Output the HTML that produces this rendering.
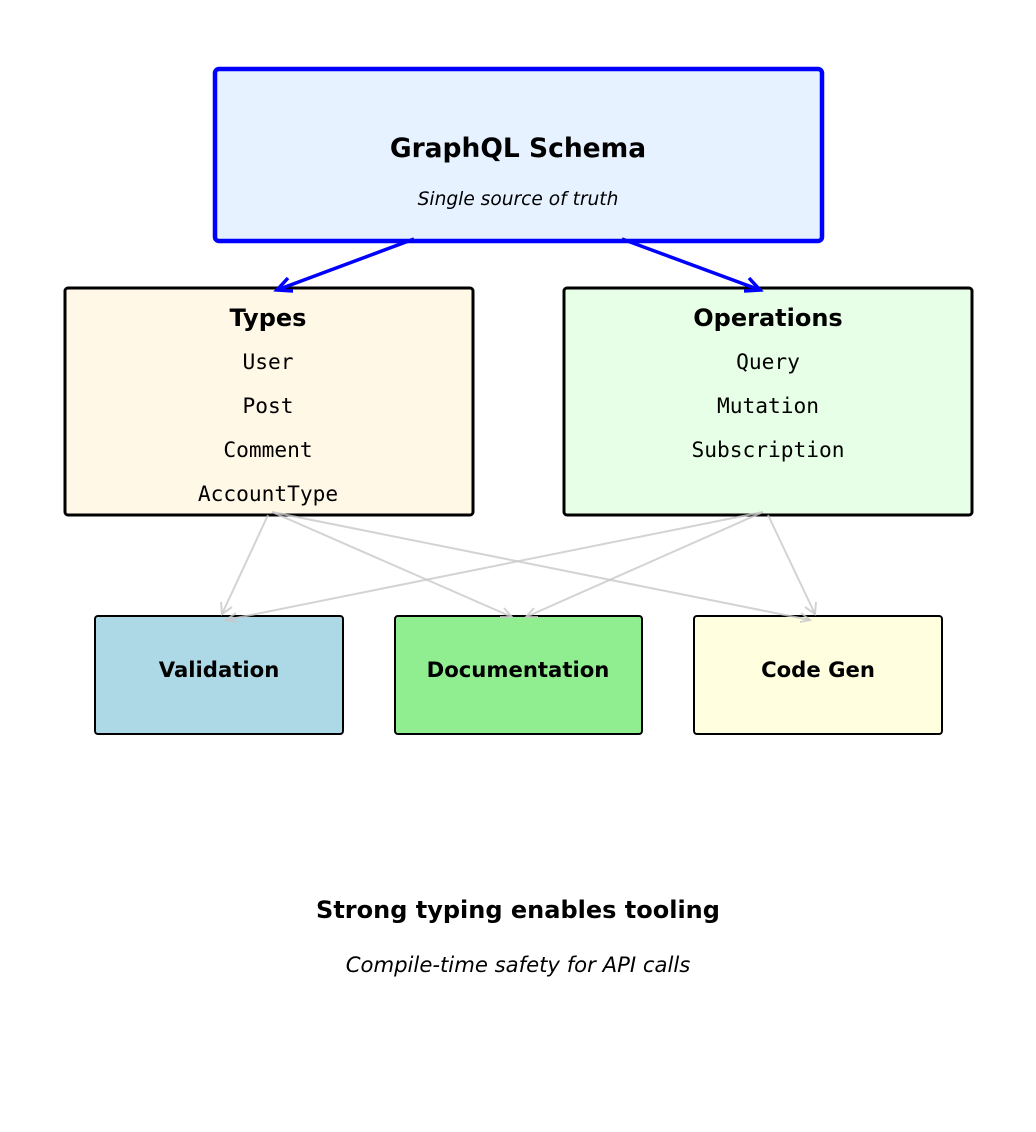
<!DOCTYPE html>
<html><head><meta charset="utf-8"><style>
html,body{margin:0;padding:0;background:#fff;}
svg{display:block;}
.b{font-family:"DejaVu Sans","Liberation Sans",sans-serif;font-weight:bold;}
.i{font-family:"DejaVu Sans","Liberation Sans",sans-serif;font-style:italic;}
.m{font-family:"DejaVu Sans Mono","Liberation Mono",monospace;}
</style></head><body>
<svg width="1036" height="1132" viewBox="0 0 1036 1132" xmlns="http://www.w3.org/2000/svg">
<rect x="215" y="69" width="607" height="172" rx="4" fill="#e6f2ff" stroke="#0000ff" stroke-width="4.5"/>
<text x="518" y="157" class="b" font-size="26.5" text-anchor="middle">GraphQL Schema</text>
<text x="518" y="205" class="i" font-size="18.6" text-anchor="middle">Single source of truth</text>

<rect x="65" y="288" width="408" height="227" rx="3" fill="#fff8e6" stroke="#000" stroke-width="3"/>
<text x="268" y="326" class="b" font-size="24" text-anchor="middle">Types</text>
<g class="m" font-size="21.2" text-anchor="middle">
<text x="268" y="369">User</text><text x="268" y="413">Post</text><text x="268" y="457">Comment</text><text x="268" y="501">AccountType</text>
</g>
<rect x="564" y="288" width="408" height="227" rx="3" fill="#e6ffe6" stroke="#000" stroke-width="3"/>
<text x="768" y="326" class="b" font-size="24" text-anchor="middle">Operations</text>
<g class="m" font-size="21.2" text-anchor="middle">
<text x="768" y="369">Query</text><text x="768" y="413">Mutation</text><text x="768" y="457">Subscription</text>
</g>

<g fill="none" stroke="#0000ff" stroke-width="3.5">
<line x1="414" y1="239" x2="277" y2="290"/>
<polyline points="288,278 277,290 293,291"/>
<line x1="622" y1="239" x2="760" y2="290"/>
<polyline points="744,291 760,290 749,278"/>
</g>

<rect x="95" y="616" width="248" height="118" rx="3" fill="#add8e6" stroke="#000" stroke-width="2"/>
<rect x="395" y="616" width="247" height="118" rx="3" fill="#90ee90" stroke="#000" stroke-width="2"/>
<rect x="694" y="616" width="248" height="118" rx="3" fill="#ffffe0" stroke="#000" stroke-width="2"/>
<g class="b" font-size="21.2" text-anchor="middle">
<text x="219" y="677">Validation</text>
<text x="518" y="677">Documentation</text>
<text x="818" y="677">Code Gen</text>
</g>

<g fill="none" stroke="#c8c8c8" stroke-opacity="0.8" stroke-width="2">
<line x1="268" y1="515" x2="222" y2="614"/><polyline points="221,602 222,614 232,607"/>
<line x1="272" y1="512" x2="512" y2="617"/><polyline points="500,617 512,617 504,608"/>
<line x1="272" y1="512" x2="810" y2="620"/><polyline points="800,622 810,620 801,613"/>
<line x1="763" y1="512" x2="226" y2="620"/><polyline points="236,613 226,620 237,622"/>
<line x1="763" y1="512" x2="526" y2="617"/><polyline points="534,608 526,617 538,617"/>
<line x1="768" y1="515" x2="815" y2="614"/><polyline points="805,607 815,614 816,602"/>
</g>

<text x="518" y="918" class="b" font-size="24" text-anchor="middle">Strong typing enables tooling</text>
<text x="518" y="972" class="i" font-size="21.2" text-anchor="middle">Compile-time safety for API calls</text>
</svg>
</body></html>
